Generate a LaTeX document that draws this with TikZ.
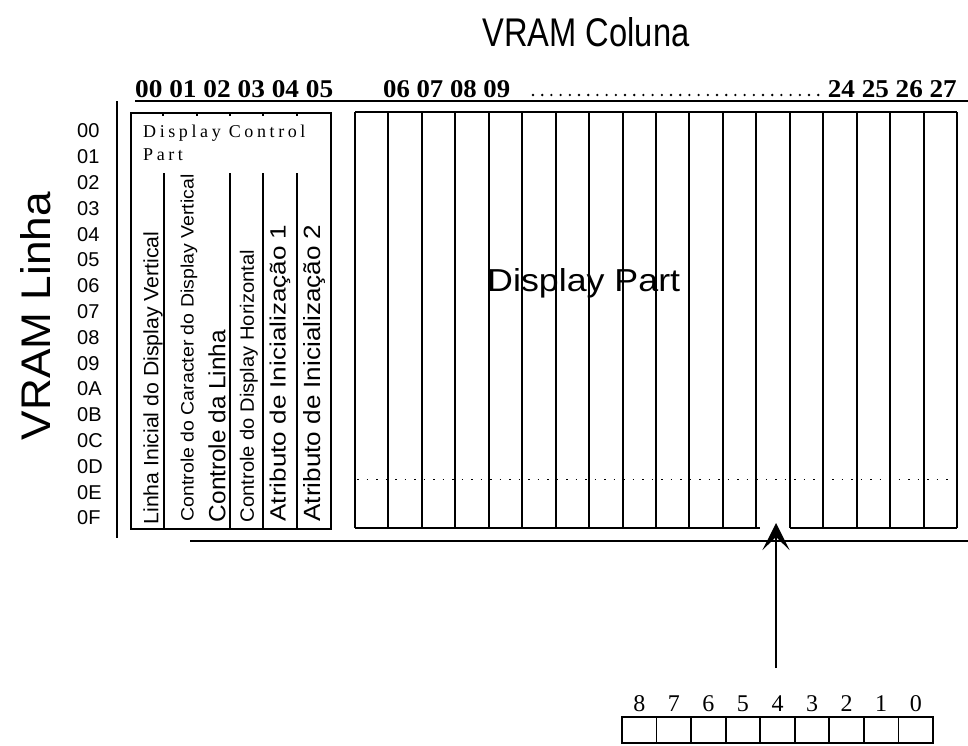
\documentclass[tikz,border=0pt]{standalone}
\usepackage{fontspec}
\setmainfont{Liberation Serif}
\newfontfamily\hsans{Liberation Sans}
\newfontfamily\spaced[LetterSpace=20]{Liberation Serif}
\usetikzlibrary{arrows.meta}
\begin{document}
\begin{tikzpicture}[x=1pt,y=-1pt]
\tikzset{
  frame/.style={line width=1.5pt},
  boxline/.style={draw, line width=2pt, inner sep=0pt},
  colline/.style={line width=2pt},
  sepline/.style={line width=1.4pt},
  plain/.style={inner sep=0pt},
  rowlab/.style={anchor=west, inner sep=0pt, font=\hsans\fontsize{20}{20}\selectfont},
  bitlab/.style={inner sep=0pt, anchor=base, font=\fontsize{24}{24}\selectfont},
  bitbox/.style={draw, line width=1.8pt, minimum width=34.56pt, minimum height=26pt, inner sep=0pt},
  vtext/.style={rotate=90, inner sep=0pt, font=\hsans},
  hdr/.style={inner sep=0pt, font=\bfseries},
}
\useasboundingbox (0,0) rectangle (968,745);

% titles
\node[plain, font=\hsans] (title) at (586,32) {\resizebox{207pt}{29pt}{VRAM Coluna}};
\node[plain, rotate=90, font=\hsans] (ylab) at (36,316) {\resizebox{248pt}{30pt}{VRAM Linha}};

% column headers
\node[hdr, anchor=base west] (c0) at (135,97) {\resizebox{198pt}{17pt}{00 01 02 03 04 05}};
\node[hdr, anchor=base west] (c1) at (383,97) {\resizebox{127pt}{17pt}{06 07 08 09}};
\node[hdr, anchor=base east] (c2) at (957,97) {\resizebox{129pt}{17pt}{24 25 26 27}};
\draw[line width=2.6pt, line cap=round, dash pattern=on 0pt off 9.2pt] (533,95) -- (824,95);

% row labels
\foreach \lab [count=\i from 0] in {00,01,02,03,04,05,06,07,08,09,0A,0B,0C,0D,0E,0F}
  \node[rowlab] (r\i) at (77,131+25.8*\i) {\lab};

% outer frame lines
\draw[frame] (135,101) -- (968,101);
\draw[frame] (117,101) -- (117,538);
\draw[frame] (190,541) -- (968,541);

% display control part
\node[boxline, minimum width=200pt, minimum height=416pt, anchor=north west] (dcp) at (130,112) {};
\foreach \x in {163,197,230,263,297} \draw[sepline] (\x,112) -- (\x,116);
\foreach \x in {164,230,263,297} \draw[sepline] (\x,173) -- (\x,528);
\node[plain, anchor=base west, font=\spaced\fontsize{18}{18}\selectfont] (dct) at (143,137) {Display Control};
\node[plain, anchor=base west, font=\spaced\fontsize{18}{18}\selectfont] (dcp2) at (143,160) {Part};

\node[vtext] (t0) at (153,378) {\resizebox{293pt}{15pt}{Linha Inicial do Display Vertical}};
\node[vtext] (t1) at (189,348) {\resizebox{347pt}{13pt}{Controle do Caracter do Display Vertical}};
\node[vtext] (t2) at (217,426) {\resizebox{192pt}{17pt}{Controle da Linha}};
\node[vtext] (t3) at (249,386) {\resizebox{272pt}{14pt}{Controle do Display Horizontal}};
\node[vtext] (t4) at (280,373) {\resizebox{297pt}{16pt}{Atributo de Inicialização 1}};
\node[vtext] (t5) at (314,373) {\resizebox{297pt}{17pt}{Atributo de Inicialização 2}};

% display part
\draw[colline] (355,112) -- (957,112);
\foreach \k in {0,...,18} \draw[colline] (355+\k*33.444,112) -- (355+\k*33.444,528);
\draw[colline] (355,528) -- (760,528);
\draw[colline] (790,528) -- (957,528);
\draw[line width=1pt, dash pattern=on 1.5pt off 8pt] (357,479) -- (955,479);
\node[plain, anchor=base west, font=\hsans] (dpt) at (487,291) {\resizebox{193pt}{23pt}{Display Part}};

% arrow
\coordinate (astart) at (776,668);
\coordinate (atip) at (776,523);
\draw[line width=2.6pt, -{Stealth[length=27pt,width=27pt,inset=13pt]}] (astart) -- (atip);

% bit register
\foreach \bv [count=\i from 0] in {8,7,6,5,4,3,2,1,0} {
  \node[bitbox] (bit\bv) at (639.28+34.56*\i,730) {};
  \node[bitlab] (bl\bv) at (639.28+34.56*\i,711) {\bv};
}
\end{tikzpicture}
\end{document}
